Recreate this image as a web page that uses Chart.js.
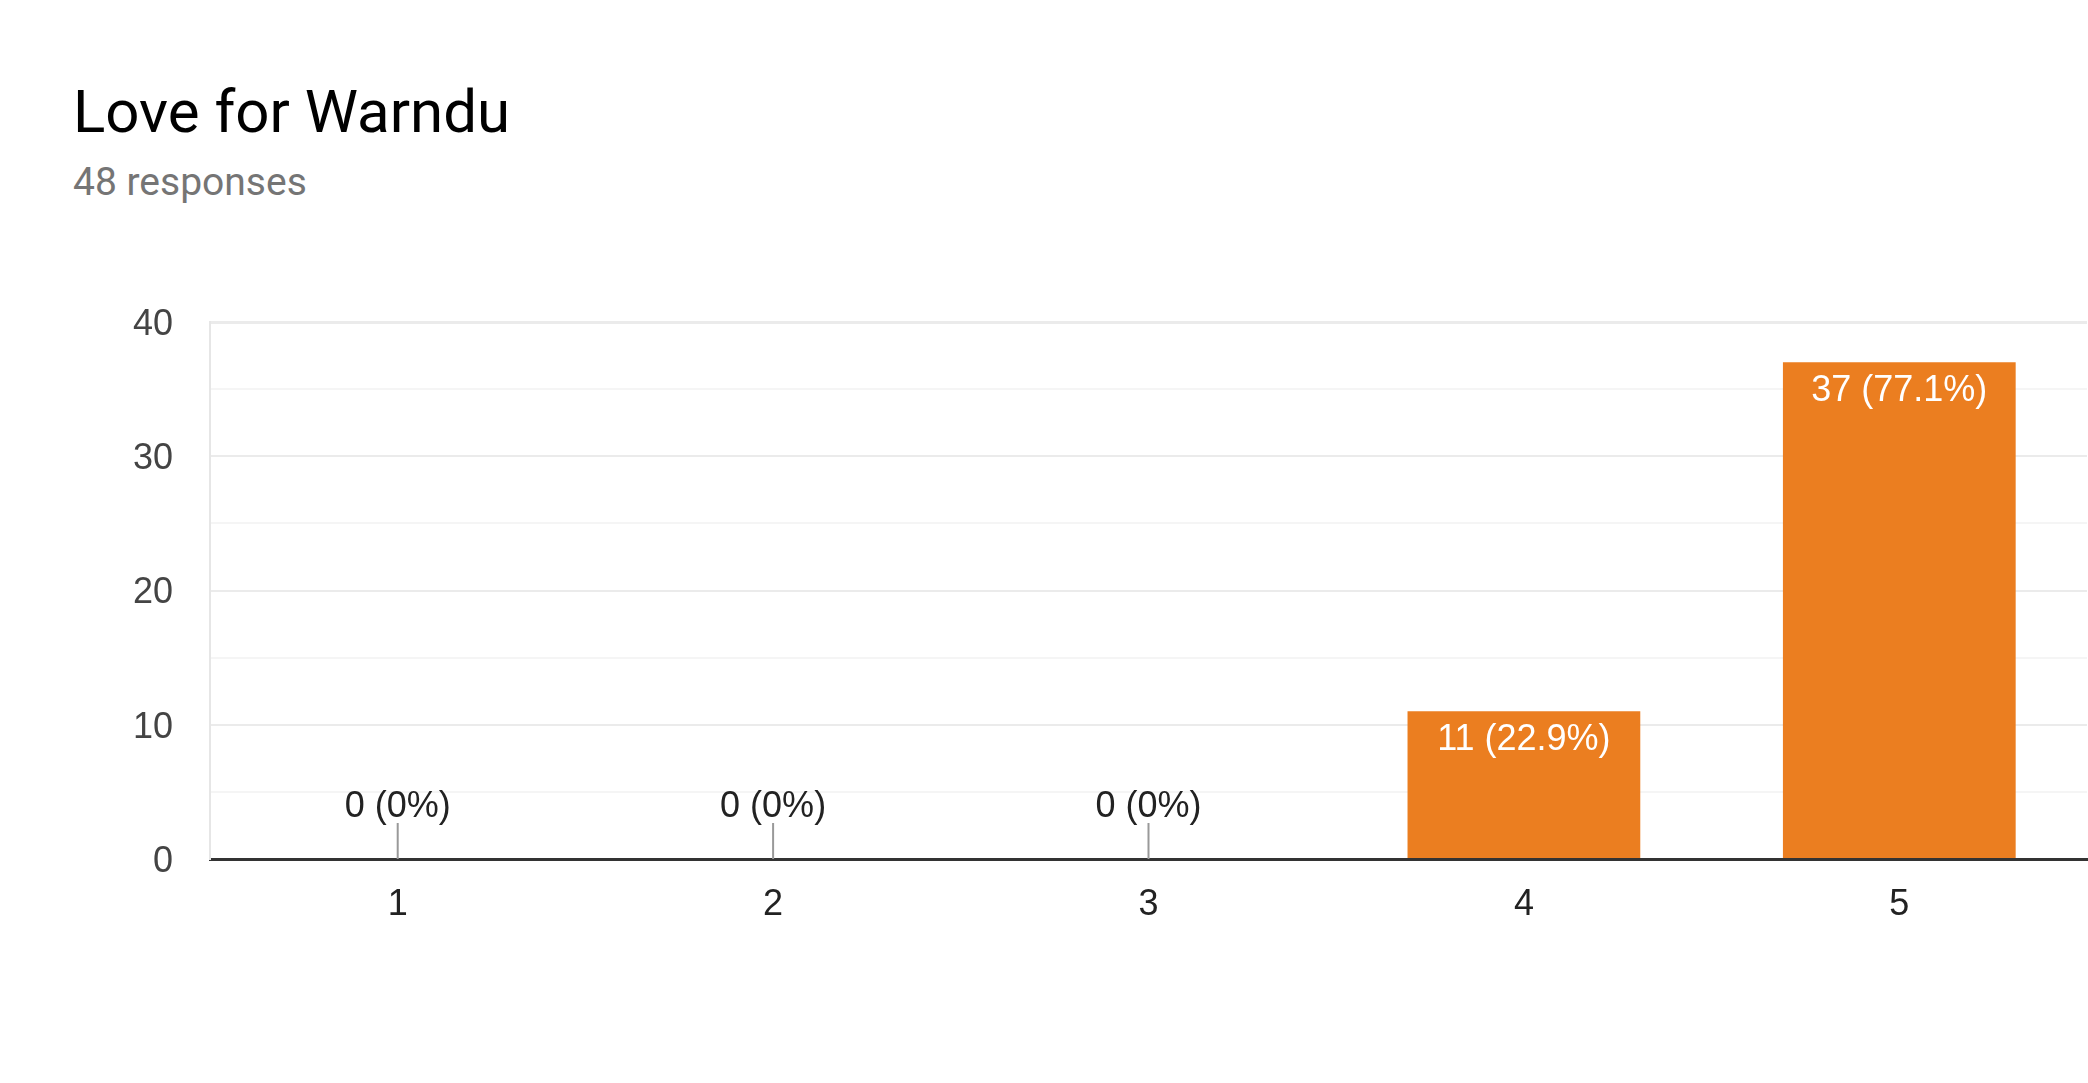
<!DOCTYPE html>
<html>
<head>
<meta charset="utf-8">
<script src="https://cdn.jsdelivr.net/npm/chart.js@4"></script>
<style>
  html, body { margin: 0; padding: 0; background: #fff; }
  body { width: 2088px; height: 1083px; position: relative; overflow: hidden; font-family: Roboto, Arial, sans-serif; }
  #title { position: absolute; left: 73px; top: 82px; font-size: 60px; line-height: 1; color: #000; }
  #sub { position: absolute; left: 73px; top: 163px; font-size: 39px; line-height: 1; color: #757575; }
  #wrap { position: absolute; left: 0; top: 0; width: 2088px; height: 1083px; }
</style>
</head>
<body>
<div id="title">Love for Warndu</div>
<div id="sub">48 responses</div>
<div id="wrap"><canvas id="chart"></canvas></div>
<script>
var categories = ['1', '2', '3', '4', '5'];
var counts = [0, 0, 0, 11, 37];
var percents = ['0%', '0%', '0%', '22.9%', '77.1%'];
var yTicks = [0, 10, 20, 30, 40];

var labelFont = '"Liberation Sans", Arial, sans-serif';

// labels: white inside the bar top, or above a small stub for empty bars
var barLabels = {
    id: 'barLabels',
    afterDatasetsDraw: function (chart) {
        var ctx = chart.ctx;
        var meta = chart.getDatasetMeta(0);
        var base = chart.scales.y.getPixelForValue(0);
        ctx.save();
        ctx.font = '36px ' + labelFont;
        ctx.textAlign = 'center';
        ctx.textBaseline = 'middle';
        meta.data.forEach(function (bar, i) {
            var txt = counts[i] + ' (' + percents[i] + ')';
            if (counts[i] === 0) {
                ctx.strokeStyle = '#999';
                ctx.lineWidth = 2;
                ctx.beginPath();
                ctx.moveTo(bar.x, base);
                ctx.lineTo(bar.x, base - 36);
                ctx.stroke();
                ctx.fillStyle = '#222';
                ctx.fillText(txt, bar.x, base - 52);
            } else {
                ctx.fillStyle = '#fff';
                ctx.fillText(txt, bar.x, bar.y + 29);
            }
        });
        ctx.restore();
    }
};

new Chart(document.getElementById('chart'), {
    type: 'bar',
    data: {
        labels: categories,
        datasets: [{
            data: counts,
            backgroundColor: '#eb7e20',
            barPercentage: 0.62,
            categoryPercentage: 1
        }]
    },
    plugins: [barLabels],
    options: {
        responsive: true,
        maintainAspectRatio: false,
        animation: false,
        devicePixelRatio: 1,
        layout: { padding: { top: 322, right: 1, bottom: 144, left: 0 } },
        plugins: { legend: { display: false }, tooltip: { enabled: false } },
        scales: {
            x: {
                afterFit: function (s) { s.height = 80; },
                grid: { display: false, drawTicks: false },
                border: { color: '#333', width: 3 },
                ticks: { color: '#222', padding: 24, font: { family: labelFont, size: 36 } }
            },
            y: {
                min: yTicks[0],
                max: yTicks[yTicks.length - 1],
                afterFit: function (s) { s.width = 210; },
                afterBuildTicks: function (s) {
                    var t = [];
                    for (var v = yTicks[0]; v <= yTicks[yTicks.length - 1]; v += 5) t.push({ value: v });
                    s.ticks = t;
                },
                border: { color: '#e6e6e6', width: 2 },
                grid: {
                    drawTicks: false,
                    color: function (c) { return c.tick.value % 10 === 0 ? '#ebebeb' : '#f5f5f5'; },
                    lineWidth: function (c) { return c.tick.value === 40 ? 3 : 2; }
                },
                ticks: {
                    color: '#444',
                    padding: 37,
                    labelOffset: 3,
                    font: { family: labelFont, size: 36 },
                    callback: function (v) { return yTicks.indexOf(v) >= 0 ? String(v) : ''; }
                }
            }
        }
    }
});
</script>
</body>
</html>
